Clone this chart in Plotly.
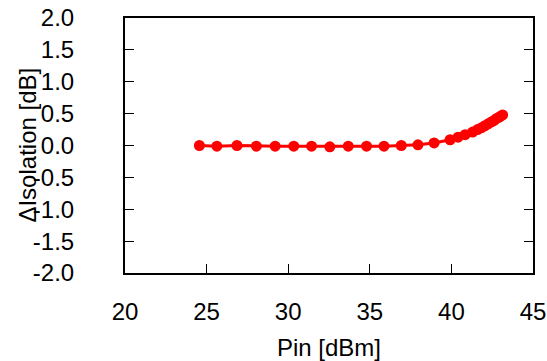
import plotly.graph_objects as go

pin_dbm = [24.56, 25.63, 26.86, 28.05, 29.20, 30.34, 31.43, 32.55, 33.68, 34.80,
           35.87, 36.93, 37.95, 38.94, 39.92, 40.41, 40.84, 41.30, 41.60, 41.85,
           42.05, 42.25, 42.45, 42.60, 42.75, 42.90, 43.02, 43.14]
delta_isolation_db = [0.00, -0.01, 0.00, -0.01, -0.01, -0.01, -0.01, -0.02, -0.01, -0.01,
                      -0.01, 0.00, 0.01, 0.04, 0.09, 0.13, 0.17, 0.21, 0.25, 0.28,
                      0.31, 0.34, 0.37, 0.39, 0.42, 0.44, 0.46, 0.48]

x_ticks = [20, 25, 30, 35, 40, 45]
y_ticks = [-2.0, -1.5, -1.0, -0.5, 0.0, 0.5, 1.0, 1.5, 2.0]
x_title = "Pin [dBm]"
y_title = "ΔIsolation [dB]"

fig = go.Figure()
fig.add_trace(go.Scatter(
    x=pin_dbm, y=delta_isolation_db, mode="lines+markers",
    line=dict(color="#ff0000", width=3),
    marker=dict(color="#ff0000", size=11),
    showlegend=False,
))

font = dict(family="Liberation Sans, Arial, sans-serif", size=24, color="#000000")
fig.update_layout(
    width=547, height=361,
    margin=dict(l=125, r=14, t=18, b=88),
    paper_bgcolor="white", plot_bgcolor="white",
    font=font,
)
fig.update_xaxes(
    range=[20, 45], tickvals=x_ticks, ticktext=[str(v) for v in x_ticks],
    showgrid=False, zeroline=False, automargin=False,
    showline=True, linecolor="black", linewidth=2, mirror=True,
    ticks="inside", ticklen=9, tickwidth=1, tickcolor="black",
    ticklabelstandoff=16,
    title=dict(text=x_title, font=font),
)
fig.update_yaxes(
    range=[-2, 2], tickvals=y_ticks,
    ticktext=[f"{v:.1f}" for v in y_ticks],
    showgrid=False, zeroline=False, automargin=False,
    showline=True, linecolor="black", linewidth=2, mirror="ticks",
    ticks="inside", ticklen=9, tickwidth=1, tickcolor="black",
    ticklabelstandoff=44,
)
fig.add_annotation(
    text=y_title, xref="paper", yref="paper", x=-0.240, y=0.5,
    xanchor="center", yanchor="middle", textangle=-90, showarrow=False, font=font,
)

fig.write_html("out.html")
